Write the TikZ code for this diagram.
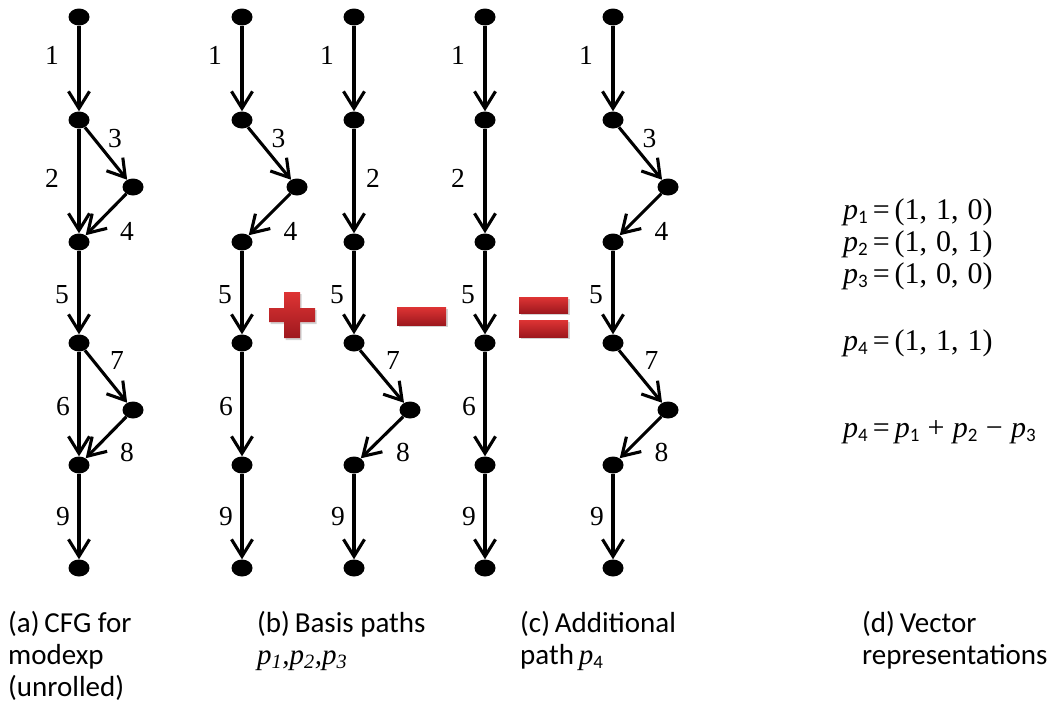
\documentclass[tikz,border=0pt]{standalone}
\usepackage{fontspec}
\setmainfont{Liberation Serif}
\newfontfamily\capfont{Carlito}
\usetikzlibrary{arrows.meta,shapes.geometric,shadows}
\newcommand\psub[1]{\textit{p}\raisebox{-4pt}{\capfont\fontsize{19}{19}\selectfont #1}}
\newcommand\wsp{\hspace{0.3em}}
\definecolor{optop}{RGB}{222,52,52}
\definecolor{opbot}{RGB}{158,24,30}
\begin{document}
\begin{tikzpicture}[x=1pt,y=-1pt,
  vtx/.style={ellipse, fill=black, minimum width=21pt, minimum height=17pt, inner sep=0pt},
  cfgedge/.style={line width=3.1pt, -{Straight Barb[length=17pt,width=21pt,line width=3.1pt]}},
  lbl/.style={font=\fontsize{27.5}{27.5}\selectfont, inner sep=0pt},
  captxt/.style={font=\capfont\fontsize{29}{32}\selectfont, align=left, anchor=base west, inner sep=0pt},
  eqtxt/.style={font=\fontsize{30}{30}\selectfont, anchor=base west, inner sep=0pt},
  redop/.style={top color=optop, bottom color=opbot, draw=none,
    drop shadow={opacity=0.35, shadow xshift=1.5pt, shadow yshift=-2pt}}
]
\useasboundingbox (0,0) rectangle (1055,704);

% ---------- (a) CFG ----------
\node[vtx] (a1) at (79,17) {};
\node[vtx] (a2) at (79,120) {};
\node[vtx] (a3) at (133,187) {};
\node[vtx] (a4) at (79,242) {};
\node[vtx] (a5) at (79,343) {};
\node[vtx] (a6) at (133,410) {};
\node[vtx] (a7) at (79,465) {};
\node[vtx] (a8) at (79,568) {};
\draw[cfgedge] (a1) -- node[lbl, xshift=-27pt, yshift=13pt] {1} (a2);
\draw[cfgedge] (a2) -- node[lbl, xshift=-27pt, yshift=3pt] {2} (a4);
\draw[cfgedge] (a2) -- node[lbl, xshift=9pt, yshift=15pt] {3} (a3);
\draw[cfgedge] (a3) -- node[lbl, xshift=21pt, yshift=-17pt] {4} (a4);
\draw[cfgedge] (a4) -- node[lbl, xshift=-17pt, yshift=-2pt] {5} (a5);
\draw[cfgedge] (a5) -- node[lbl, xshift=-16pt, yshift=-3pt] {6} (a7);
\draw[cfgedge] (a5) -- node[lbl, xshift=11pt, yshift=16pt] {7} (a6);
\draw[cfgedge] (a6) -- node[lbl, xshift=21pt, yshift=-15pt] {8} (a7);
\draw[cfgedge] (a7) -- node[lbl, xshift=-16pt, yshift=0pt] {9} (a8);

% ---------- (b) p1 ----------
\node[vtx] (b1) at (242,17) {};
\node[vtx] (b2) at (242,120) {};
\node[vtx] (b3) at (297,187) {};
\node[vtx] (b4) at (242,242) {};
\node[vtx] (b5) at (242,343) {};
\node[vtx] (b7) at (242,465) {};
\node[vtx] (b8) at (242,568) {};
\draw[cfgedge] (b1) -- node[lbl, xshift=-27pt, yshift=13pt] {1} (b2);
\draw[cfgedge] (b2) -- node[lbl, xshift=9pt, yshift=15pt] {3} (b3);
\draw[cfgedge] (b3) -- node[lbl, xshift=21pt, yshift=-17pt] {4} (b4);
\draw[cfgedge] (b4) -- node[lbl, xshift=-17pt, yshift=-2pt] {5} (b5);
\draw[cfgedge] (b5) -- node[lbl, xshift=-16pt, yshift=-3pt] {6} (b7);
\draw[cfgedge] (b7) -- node[lbl, xshift=-16pt, yshift=0pt] {9} (b8);

% ---------- (b) p2 ----------
\node[vtx] (c1) at (354,17) {};
\node[vtx] (c2) at (354,120) {};
\node[vtx] (c4) at (354,242) {};
\node[vtx] (c5) at (354,343) {};
\node[vtx] (c6) at (410,410) {};
\node[vtx] (c7) at (354,465) {};
\node[vtx] (c8) at (354,568) {};
\draw[cfgedge] (c1) -- node[lbl, xshift=-27pt, yshift=13pt] {1} (c2);
\draw[cfgedge] (c2) -- node[lbl, xshift=19pt, yshift=3pt] {2} (c4);
\draw[cfgedge] (c4) -- node[lbl, xshift=-17pt, yshift=-2pt] {5} (c5);
\draw[cfgedge] (c5) -- node[lbl, xshift=11pt, yshift=16pt] {7} (c6);
\draw[cfgedge] (c6) -- node[lbl, xshift=21pt, yshift=-15pt] {8} (c7);
\draw[cfgedge] (c7) -- node[lbl, xshift=-16pt, yshift=0pt] {9} (c8);

% ---------- (c) p3 ----------
\node[vtx] (d1) at (485,17) {};
\node[vtx] (d2) at (485,120) {};
\node[vtx] (d4) at (485,242) {};
\node[vtx] (d5) at (485,343) {};
\node[vtx] (d7) at (485,465) {};
\node[vtx] (d8) at (485,568) {};
\draw[cfgedge] (d1) -- node[lbl, xshift=-27pt, yshift=13pt] {1} (d2);
\draw[cfgedge] (d2) -- node[lbl, xshift=-27pt, yshift=3pt] {2} (d4);
\draw[cfgedge] (d4) -- node[lbl, xshift=-17pt, yshift=-2pt] {5} (d5);
\draw[cfgedge] (d5) -- node[lbl, xshift=-16pt, yshift=-3pt] {6} (d7);
\draw[cfgedge] (d7) -- node[lbl, xshift=-16pt, yshift=0pt] {9} (d8);

% ---------- (c) p4 ----------
\node[vtx] (e1) at (613,17) {};
\node[vtx] (e2) at (613,120) {};
\node[vtx] (e3) at (668,187) {};
\node[vtx] (e4) at (613,242) {};
\node[vtx] (e5) at (613,343) {};
\node[vtx] (e6) at (668,410) {};
\node[vtx] (e7) at (613,465) {};
\node[vtx] (e8) at (613,568) {};
\draw[cfgedge] (e1) -- node[lbl, xshift=-27pt, yshift=13pt] {1} (e2);
\draw[cfgedge] (e2) -- node[lbl, xshift=9pt, yshift=15pt] {3} (e3);
\draw[cfgedge] (e3) -- node[lbl, xshift=21pt, yshift=-17pt] {4} (e4);
\draw[cfgedge] (e4) -- node[lbl, xshift=-17pt, yshift=-2pt] {5} (e5);
\draw[cfgedge] (e5) -- node[lbl, xshift=11pt, yshift=16pt] {7} (e6);
\draw[cfgedge] (e6) -- node[lbl, xshift=21pt, yshift=-15pt] {8} (e7);
\draw[cfgedge] (e7) -- node[lbl, xshift=-16pt, yshift=0pt] {9} (e8);

% ---------- operators ----------
\path[redop] (269,308) -- (284,308) -- (284,292) -- (300,292) -- (300,308) -- (315,308)
  -- (315,322) -- (300,322) -- (300,338) -- (284,338) -- (284,322) -- (269,322) -- cycle;
\path[redop] (397,307) rectangle (446,325);
\path[redop] (519,297) rectangle (568,313);
\path[redop] (519,320) rectangle (568,337);

% ---------- vectors ----------
\node[eqtxt] (v1) at (843,219) {\psub{1}\,=\,(1,\wsp1,\wsp0)};
\node[eqtxt] (v2) at (843,251) {\psub{2}\,=\,(1,\wsp0,\wsp1)};
\node[eqtxt] (v3) at (843,283) {\psub{3}\,=\,(1,\wsp0,\wsp0)};
\node[eqtxt] (v4) at (843,350) {\psub{4}\,=\,(1,\wsp1,\wsp1)};
\node[eqtxt] (v5) at (843,437) {\psub{4}\,=\,\psub{1}\;+\;\psub{2}\;\textminus\;\psub{3}};

% ---------- captions ----------
\node[captxt] (ca) at (8,696) {(a)\,CFG for\\modexp\\(unrolled)};
\node[captxt] (cb) at (257,664) {(b)\,Basis paths\\{\rmfamily\itshape p\textsubscript{1},p\textsubscript{2},p\textsubscript{3}}};
\node[captxt] (cc) at (520,664) {(c)\,Additional\\path\,{\rmfamily\psub{4}}};
\node[captxt] (cd) at (862,664) {(d)\,Vector\\representations};
\end{tikzpicture}
\end{document}
